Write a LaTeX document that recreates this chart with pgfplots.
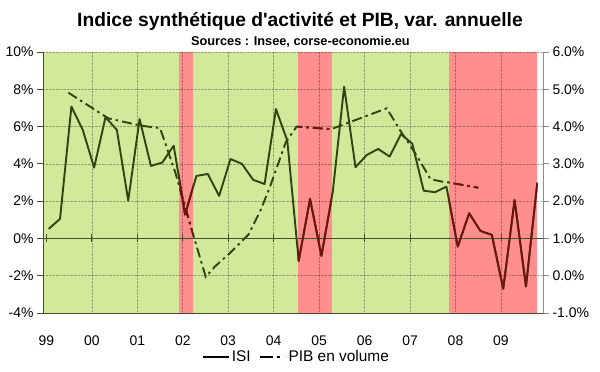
\documentclass[border=0pt]{standalone}
\usepackage{pgfplots}
\usepackage{pgfplotstable}
\pgfplotsset{compat=1.18}
\usepackage{fontspec}
\setmainfont{Liberation Sans}
\definecolor{zgreen}{RGB}{212,232,155}
\definecolor{zred}{RGB}{255,142,142}
\definecolor{lgreen}{RGB}{50,66,16}
\definecolor{lred}{RGB}{112,20,16}
\definecolor{axcol}{RGB}{70,80,40}

\pgfplotstableread{
i isi
0 0.51
1 1.05
2 7.07
3 5.82
4 3.80
5 6.50
6 5.82
7 2.03
8 6.40
9 3.89
10 4.07
11 4.98
12 1.28
13 3.35
14 3.46
15 2.28
16 4.26
17 4.00
18 3.14
19 2.92
20 6.94
21 5.24
22 -1.21
23 2.12
24 -0.94
25 2.50
26 8.14
27 3.82
28 4.48
29 4.80
30 4.39
31 5.59
32 5.08
33 2.56
34 2.48
35 2.78
36 -0.44
37 1.35
38 0.40
39 0.19
40 -2.70
41 2.06
42 -2.58
43 2.99
}\isitable

\pgfplotstableread{
x pib
1.73 4.91
5.25 4.22
8.19 4.02
9.80 3.96
11.12 2.79
12.59 1.23
13.82 -0.03
14.64 0.25
15.96 0.61
17.57 1.10
18.60 1.72
19.48 2.39
20.89 3.60
21.83 4.00
24.85 3.93
29.75 4.49
30.90 3.91
31.80 3.50
32.70 3.06
33.60 2.59
34.50 2.53
35.20 2.50
37.80 2.36
}\pibtable

\pgfplotstableread{
t up dn
-0.2 1 -1
3.8 1 -1
7.8 1 -1
11.8 1 -1
15.8 1 -1
19.8 1 -1
23.8 1 -1
27.8 1 -1
31.8 1 -1
35.8 1 -1
39.8 1 -1
}\ticktable

\pgfplotsset{
  base/.style={scale only axis, width=500bp, height=261bp, anchor=south west,
    at={(43bp,-313bp)}, xmin=-0.5, xmax=43.5, ymin=-4, ymax=10},
  zone/.style n args={3}{scale only axis, width=#3bp, height=261bp, anchor=south west,
    at={(#1bp,-313bp)}, xmin=#2, ymin=-4, ymax=10, hide axis, clip=true},
  isiline/.style={line width=1.9bp, line join=round},
  pibline/.style={line width=1.9bp, dash pattern=on 10bp off 4bp on 2.5bp off 4bp},
}

\begin{document}
\begin{tikzpicture}
\path[use as bounding box] (0bp,0bp) rectangle (600bp,-372bp);
\node[anchor=base, font=\fontsize{19.3}{22}\selectfont\bfseries, inner sep=0pt] at (300bp,-26.7bp)
  {Indice synthétique d\textquotesingle activité et PIB, var. annuelle};
\node[anchor=base, font=\fontsize{12.8}{15}\selectfont\bfseries, inner sep=0pt] at (300.4bp,-45bp)
  {Sources : Insee, corse-economie.eu};

% background zones
\begin{axis}[base, hide axis]
\addplot[fill=zgreen, draw=none] coordinates {(-0.5,-4) (11.47,-4) (11.47,10) (-0.5,10)} -- cycle;
\addplot[fill=zred, draw=none] coordinates {(11.47,-4) (12.68,-4) (12.68,10) (11.47,10)} -- cycle;
\addplot[fill=zgreen, draw=none] coordinates {(12.68,-4) (21.9,-4) (21.9,10) (12.68,10)} -- cycle;
\addplot[fill=zred, draw=none] coordinates {(21.9,-4) (24.9,-4) (24.9,10) (21.9,10)} -- cycle;
\addplot[fill=zgreen, draw=none] coordinates {(24.9,-4) (35.2,-4) (35.2,10) (24.9,10)} -- cycle;
\addplot[fill=zred, draw=none] coordinates {(35.2,-4) (43.0,-4) (43.0,10) (35.2,10)} -- cycle;
\end{axis}

% main axis: left scale, grid, ISI
\begin{axis}[base,
  axis x line*=bottom, axis y line*=left,
  axis line style={axcol, line width=0.8bp},
  xtick={3.8,7.8,11.8,15.8,19.8,23.8,27.8,31.8,35.8,39.8},
  xticklabels={00,01,02,03,04,05,06,07,08,09},
  extra x ticks={-0.2}, extra x tick labels={99},
  extra x tick style={grid=none},
  xtick style={draw=none},
  xticklabel style={yshift=-13bp},
  ytick={-4,-2,0,2,4,6,8,10},
  yticklabels={-4\%,-2\%,0\%,2\%,4\%,6\%,8\%,10\%},
  ytick style={axcol, line width=0.8bp},
  tick align=outside, major tick length=6bp,
  tick label style={font=\fontsize{14}{16}\selectfont},
  xmajorgrids, ymajorgrids,
  major grid style={densely dotted, black, draw opacity=0.3, line width=0.7bp},
]
\addplot[isiline, lgreen] table[x=i, y=isi] {\isitable};
\addplot[pibline, lgreen] table[x=x, y expr=2*\thisrow{pib}-2] {\pibtable};
\end{axis}

% zero line with crossing ticks (small axis centred on y = 0)
\begin{axis}[scale only axis, width=500bp, height=8bp, anchor=south west,
  at={(43bp,-242.43bp)}, xmin=-0.5, xmax=43.5, ymin=-1, ymax=1,
  hide axis, clip=false]
\addplot[axcol, line width=0.9bp] coordinates {(-0.5,0) (43.5,0)};
\addplot[axcol, line width=0.9bp, ycomb] table[x=t, y=up] {\ticktable};
\addplot[axcol, line width=0.9bp, ycomb] table[x=t, y=dn] {\ticktable};
\end{axis}

% right axis: PIB scale, legend
\begin{axis}[base, ymin=-1, ymax=6,
  axis x line=none, axis y line*=right,
  axis line style={black!45, line width=0.8bp},
  ytick={-1,0,1,2,3,4,5,6},
  yticklabels={-1.0\%,0.0\%,1.0\%,2.0\%,3.0\%,4.0\%,5.0\%,6.0\%},
  ytick style={black!45, line width=0.8bp},
  tick align=outside, major tick length=6bp,
  tick label style={font=\fontsize{14}{16}\selectfont},
  legend style={at={(0.507,-0.169)}, anchor=center, draw=none, fill=none,
    font=\fontsize{15.5}{17}\selectfont, legend columns=2,
    /tikz/every even column/.append style={column sep=6bp}},
  legend image code/.code={\draw[#1] (0bp,0bp) -- (26bp,0bp);},
]
\addlegendimage{black, line width=1.8bp}
\addlegendentry{ISI}
\addlegendimage{black, line width=1.8bp, dash pattern=on 13bp off 4bp on 3bp off 6bp}
\addlegendentry{PIB en volume}
\end{axis}

% red zone overlays (lines tinted dark red)
\begin{axis}[zone={179.02}{11.47}{13.75}, xmax=12.68]
\addplot[isiline, lred] table[x=i, y=isi] {\isitable};
\addplot[pibline, lred] table[x=x, y expr=2*\thisrow{pib}-2] {\pibtable};
\end{axis}
\begin{axis}[zone={297.55}{21.9}{34.09}, xmax=24.9]
\addplot[isiline, lred] table[x=i, y=isi] {\isitable};
\addplot[pibline, lred] table[x=x, y expr=2*\thisrow{pib}-2] {\pibtable};
\end{axis}
\begin{axis}[zone={448.68}{35.2}{88.64}, xmax=43.0]
\addplot[isiline, lred] table[x=i, y=isi] {\isitable};
\addplot[pibline, lred] table[x=x, y expr=2*\thisrow{pib}-2] {\pibtable};
\end{axis}
\end{tikzpicture}
\end{document}
